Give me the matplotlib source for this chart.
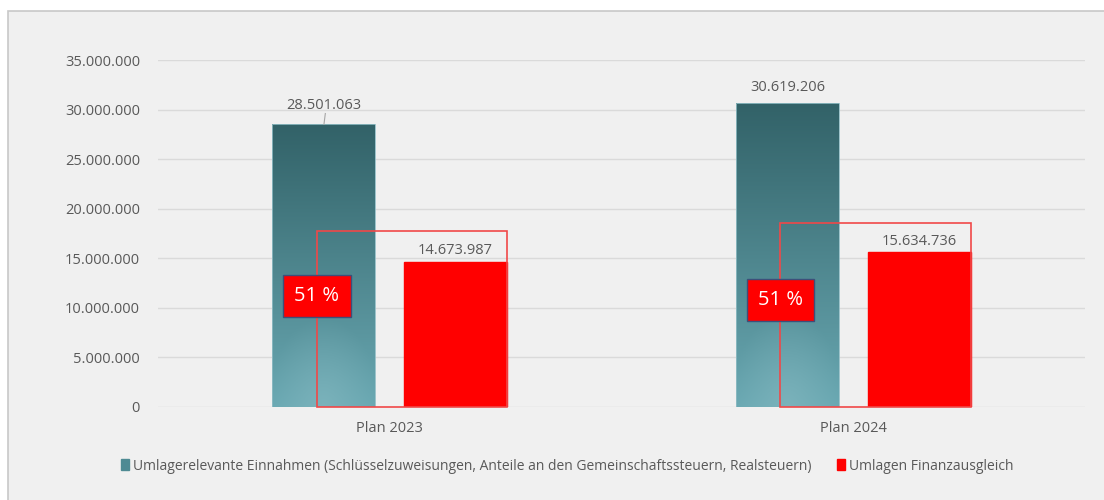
import numpy as np
import matplotlib.pyplot as plt
from matplotlib.patches import Rectangle, Patch

categories = ["Plan 2023", "Plan 2024"]
einnahmen = [28501063, 30619206]
umlagen = [14673987, 15634736]
quote_labels = ["51 %", "51 %"]
# top of the hand-drawn red frame around the Umlagen bar
frame_top = [17750000, 18550000]

plt.rcParams["font.family"] = ["Open Sans", "DejaVu Sans"]

def fmt(v):
    return f"{v:,.0f}".replace(",", ".")

fig = plt.figure(figsize=(11.04, 5), dpi=100)
fig.patch.set_facecolor("white")
fig.patches.append(Rectangle((8 / 1104, -0.02), 1.05, 1 - 11 / 500 + 0.02,
                             transform=fig.transFigure, facecolor="#f0f0f0",
                             edgecolor="#c8c8c8", lw=1.2, zorder=-1))

ax = fig.add_axes([158 / 1104, 1 - 407 / 500, 927 / 1104, (407 - 60) / 500])
ax.set_facecolor("none")
for s in ax.spines.values():
    s.set_visible(False)
ax.set_yticks(np.arange(0, 35000001, 5000000))
ax.set_yticklabels([fmt(v) for v in ax.get_yticks()])
ax.grid(axis="y", color="#dadada", lw=1)
ax.set_axisbelow(True)
ax.tick_params(length=0, labelsize=10.5, colors="#595959", pad=13)
ax.tick_params(axis="x", pad=10)
x = np.arange(len(categories))
ax.set_xticks(x)
ax.set_xticklabels(categories)

w = 0.222
off = 0.142
teal_bars = ax.bar(x - off, einnahmen, w, color="none", edgecolor="#8fbcc4", lw=0.6, zorder=2)
red_bars = ax.bar(x + off, umlagen, w, color="#ff0000", edgecolor="#ff0000", zorder=2)

# gradient fill for the teal bars
top_c = np.array([50, 98, 104]) / 255
bot_c = np.array([105, 168, 178]) / 255
spot_c = np.array([135, 186, 194]) / 255
ny, nx = 200, 60
yy, xx = np.mgrid[0:1:ny * 1j, -1:1:nx * 1j]
for b in teal_bars:
    h = b.get_height()
    t = yy  # 0 bottom .. 1 top
    img = bot_c[None, None, :] * (1 - t[..., None]) + top_c[None, None, :] * t[..., None]
    r = np.sqrt((xx * 0.9) ** 2 + (yy * 3.2) ** 2)
    s = np.clip(1 - r, 0, 1)[..., None] * 0.6
    img = img * (1 - s) + spot_c[None, None, :] * s
    x0 = b.get_x()
    im = ax.imshow(img, extent=[x0, x0 + b.get_width(), 0, h], origin="lower",
                   aspect="auto", zorder=1.9)
    im.set_clip_path(b)
ax.set_xlim(-0.5, 1.5)
ax.set_ylim(0, 35000000)

# value labels (gap above the bar differs a bit in the original)
label_gap = [1200000, 850000]
for i in range(len(categories)):
    ax.text(x[i] - off, einnahmen[i] + label_gap[i], fmt(einnahmen[i]), ha="center",
            va="bottom", fontsize=10.5, color="#595959")
    ax.text(x[i] + off, umlagen[i] + 350000, fmt(umlagen[i]), ha="center",
            va="bottom", fontsize=10.5, color="#595959")
# leader line for first label
ax.plot([x[0] - off + 0.003, x[0] - off], [einnahmen[0] + 1100000, einnahmen[0]],
        color="#a6a6a6", lw=0.8, zorder=3)

# red frames and percentage boxes
quote_y = [11200000, 10800000]
for i in range(len(categories)):
    left = x[i] - 0.157
    right = x[i] + off + w / 2
    ax.add_patch(Rectangle((left, 0), right - left, frame_top[i], fill=False,
                           edgecolor="#f04848", lw=1.2, zorder=4, clip_on=False))
    ax.text(left, quote_y[i], quote_labels[i],
            ha="center", va="center", fontsize=14.5, color="white", zorder=5,
            bbox=dict(boxstyle="square,pad=0.55", facecolor="#ff0000",
                      edgecolor="#3d4f7a", lw=1))

handles = [Patch(facecolor="#4e8a93", edgecolor="#4e8a93"),
           Patch(facecolor="#ff0000", edgecolor="#ff0000")]
labels = ["Umlagerelevante Einnahmen (Schlüsselzuweisungen, Anteile an den Gemeinschaftssteuern, Realsteuern)",
          "Umlagen Finanzausgleich"]
fig.legend(handles, labels, loc="center", bbox_to_anchor=(567 / 1104, 1 - 466 / 500),
           ncol=2, frameon=False, fontsize=10, handlelength=0.6, handleheight=0.9,
           handletextpad=0.3, columnspacing=1.8, labelcolor="#595959")

fig.savefig("out.png", dpi=100, facecolor="white")
